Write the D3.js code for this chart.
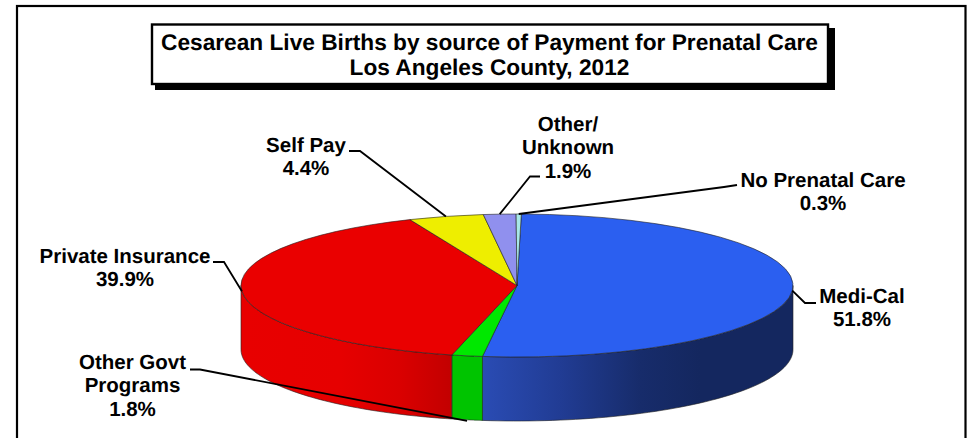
<!DOCTYPE html>
<html><head><meta charset="utf-8">
<script src="https://cdnjs.cloudflare.com/ajax/libs/d3/7.8.5/d3.min.js"></script>
<style>html,body{margin:0;padding:0;background:#fff}svg{display:block}
text{font-family:"Liberation Sans",Arial,sans-serif;font-weight:700;fill:#000;text-rendering:geometricPrecision}</style></head>
<body><svg id="c" width="971" height="438"></svg>
<script>
const categories=["Medi-Cal","Other Govt Programs","Private Insurance","Self Pay","Other/ Unknown","No Prenatal Care"];
const shares=[51.8,1.8,39.9,4.4,1.9,0.3];
const labelLines=[["Medi-Cal","51.8%"],["Other Govt","Programs","1.8%"],["Private Insurance","39.9%"],["Self Pay","4.4%"],["Other/","Unknown","1.9%"],["No Prenatal Care","0.3%"]];
const topColors=["#2b5ff0","#00e800","#ea0000","#eeee00","#9090ee","#a8e8e8"];
const titleLines=["Cesarean Live Births by source of Payment for Prenatal Care","Los Angeles County, 2012"];

const W=971,H=438,cx=517,cy=285.5,rx=276,ry=71.5,depth=64,startDeg=0.9;
const svg=d3.select("#c");
const defs=svg.append("defs");
const rad=d3.scaleLinear().domain([0,360]).range([0,2*Math.PI]);
const pie=d3.pie().sort(null).value(d=>d).startAngle(rad(startDeg)).endAngle(rad(startDeg+360));
const arcs=pie(shares);
const px=a=>cx+rx*Math.sin(a), py=a=>cy-ry*Math.cos(a);

// frame
svg.append("rect").attr("x",17).attr("y",6).attr("width",948.5).attr("height",445).attr("fill","#fff").attr("stroke","#000").attr("stroke-width",2.2);

// side gradients
const sideStops=[
 [[482,"#2a4cb4"],[560,"#213c94"],[640,"#172c6b"],[700,"#14275f"],[793,"#14275f"]],
 [[452,"#00c400"],[482,"#00c400"]],
 [[241,"#e80000"],[340,"#e60000"],[400,"#da0000"],[452,"#c20000"]],
 [[0,"#c0c000"],[1,"#c0c000"]],[[0,"#7070c0"],[1,"#7070c0"]],[[0,"#80b0b0"],[1,"#80b0b0"]]
];
sideStops.forEach((s,i)=>{
 const x0=s[0][0],x1=s[s.length-1][0];
 const g=defs.append("linearGradient").attr("id","side"+i).attr("gradientUnits","userSpaceOnUse").attr("x1",x0).attr("x2",x1).attr("y1",0).attr("y2",0);
 s.forEach(t=>g.append("stop").attr("offset",(t[0]-x0)/(x1-x0)).attr("stop-color",t[1]));
});

// side walls (front half of the ellipse only)
const front=[rad(90),rad(270)];
const pts=d=>{
 const a0=Math.max(d.startAngle,front[0]),a1=Math.min(d.endAngle,front[1]);
 if(a1<=a0) return null;
 const aa=d3.range(0,61).map(k=>a0+(a1-a0)*k/60);
 return aa.map(a=>[px(a),py(a)]).concat(aa.slice().reverse().map(a=>[px(a),py(a)+depth]));
};
const line=d3.line().curve(d3.curveLinearClosed);
svg.append("g").selectAll("path").data(arcs.map((d,i)=>({d,i})).filter(o=>pts(o.d))).join("path")
 .attr("d",o=>line(pts(o.d))).attr("fill",o=>`url(#side${o.i})`).attr("stroke","#222").attr("stroke-width",0.6).attr("stroke-linejoin","round");

// top face
const arcGen=d3.arc().innerRadius(0).outerRadius(rx);
svg.append("g").attr("transform",`translate(${cx},${cy}) scale(1,${ry/rx})`)
 .selectAll("path").data(arcs).join("path").attr("d",arcGen)
 .attr("fill",(d,i)=>topColors[i]).attr("stroke","#222").attr("stroke-width",0.6).attr("vector-effect","non-scaling-stroke").attr("stroke-linejoin","round");

// labels & leaders
const labelPos=[{x:862,y:302.7,anchor:[816,303],knee:[805,303]},
 {x:132.5,y:369,anchor:[190,369.5],knee:[200,369.5],bottom:true},
 {x:125,y:262.7,anchor:[213,262],knee:[224,262]},
 {x:306,y:151.7,anchor:[349,151],knee:[360,151]},
 {x:568,y:131,anchor:[540,176.5],knee:[530,176.5]},
 {x:823,y:187,anchor:[737,185],knee:[724,187]}];
const fs=20.5;
const lead=svg.append("g").attr("fill","none").attr("stroke","#000").attr("stroke-width",1.8);
arcs.forEach((d,i)=>{
 const m=(d.startAngle+d.endAngle)/2,p=labelPos[i];
 const end=[px(m),py(m)+(p.bottom?depth+1:0)];
 lead.append("path").attr("d",d3.line()([p.anchor,p.knee,end]));
 const t=svg.append("text").attr("text-anchor","middle").attr("font-size",fs);
 labelLines[i].forEach((s,k)=>t.append("tspan").attr("x",p.x).attr("y",p.y+k*23.4).text(s));
});

// title
svg.append("rect").attr("x",155).attr("y",28).attr("width",680).attr("height",62).attr("fill","#000");
svg.append("rect").attr("x",152).attr("y",24.5).attr("width",676).attr("height",59.5).attr("fill","#fff").attr("stroke","#000").attr("stroke-width",2.4);
titleLines.forEach((s,k)=>svg.append("text").attr("x",489.5).attr("y",50+k*24.5).attr("text-anchor","middle").attr("font-size",22.7).text(s));
</script></body></html>
